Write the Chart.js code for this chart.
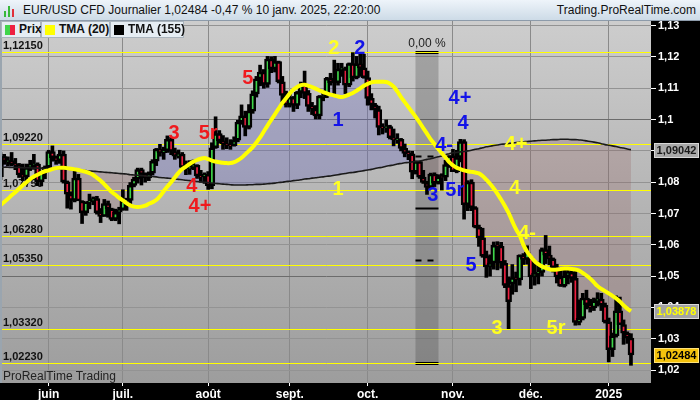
<!DOCTYPE html>
<html>
<head>
<meta charset="utf-8">
<script src="https://cdn.jsdelivr.net/npm/chart.js@4.4.1/dist/chart.umd.min.js"></script>
<style>
    html, body { margin: 0; padding: 0; background: #000; }
    #wrap { position: relative; width: 700px; height: 400px; overflow: hidden; font-family: "Liberation Sans", Arial, sans-serif; }
    #c { position: absolute; left: 0; top: 0; }
    #head { position: absolute; left: 0; top: 0; width: 700px; height: 21px; box-sizing: border-box;
            background: linear-gradient(#eef4fa, #cddbe7); border-bottom: 1px solid #8d9baa; font-size: 12px; color: #111; }
    #head .ttl { position: absolute; left: 23px; top: 3px; white-space: nowrap; }
    #head .site { position: absolute; right: 4px; top: 3px; white-space: nowrap; }
    #head .ico { position: absolute; left: 4px; top: 4px; width: 12px; height: 13px; }
    #head .ico i { position: absolute; bottom: 0; width: 2px; background: #37b93a; }
    .leg { position: absolute; top: 21px; height: 17px; box-sizing: border-box; background: #e6edf3;
           border: 1px solid #aab4bd; font-size: 12px; font-weight: bold; color: #111; line-height: 15px; white-space: nowrap; }
    .leg .sw { position: absolute; left: 3px; top: 3px; width: 10px; height: 10px; }
    .leg span { position: absolute; left: 17px; top: 0; }
    #brand { position: absolute; left: 3px; top: 369px; font-size: 12px; color: #222; white-space: nowrap; }
</style>
</head>
<body>
<div id="wrap">
    <canvas id="c" width="700" height="400"></canvas>
    <div id="head">
        <div class="ico"><i style="left:0;height:6px"></i><i style="left:4px;height:11px"></i><i style="left:8px;height:8px;background:#e0303a"></i></div>
        <span class="ttl">EUR/USD CFD Journalier 1,02484 -0,47 % 10 janv. 2025, 22:20:00</span>
        <span class="site">Trading.ProRealTime.com</span>
    </div>
    <div class="leg" style="left:1px;width:40px"><i class="sw" style="background:linear-gradient(90deg,#3fd54a 50%,#ee2040 50%)"></i><span>Prix</span></div>
    <div class="leg" style="left:41px;width:69px"><i class="sw" style="background:#ffff00"></i><span>TMA (20)</span></div>
    <div class="leg" style="left:110px;width:74px"><i class="sw" style="background:#000"></i><span>TMA (155)</span></div>
    <div id="brand">ProRealTime Trading</div>
</div>
<script>
// One entry per trading day, 15 mai 2024 -> 10 janv. 2025 (index = x position)
// Month rows: mai(13) juin(20) juil(23) aout(22) sept(21) oct(23) nov(21) dec(21) janv(7)
const opens = [
    1.0818,1.0882,1.0866,1.0869,1.0857,1.0856,1.0823,1.0817,1.0847,1.0857,1.0858,1.0802,1.0832,
    1.0848,1.0898,1.0878,1.0869,1.0890,1.0801,1.0762,1.0742,1.0813,1.0740,1.0703,1.0737,1.0739,1.0748,1.0703,1.0691,1.0732,1.0715,1.0681,1.0704,
    1.0712,1.0741,1.0742,1.0790,1.0810,1.0840,1.0826,1.0814,1.0829,1.0867,1.0906,1.0894,1.0901,1.0937,1.0898,1.0883,1.0890,1.0847,1.0843,1.0849,1.0855,1.0820,1.0817,
    1.0825,1.0789,1.0910,1.0955,1.0932,1.0923,1.0918,1.0917,1.0934,1.0992,1.1012,1.0975,1.1027,1.1082,1.1130,1.1152,1.1112,1.1193,1.1162,1.1185,1.1121,1.1077,
    1.1047,1.1071,1.1045,1.1087,1.1111,1.1084,1.1042,1.1034,1.1012,1.1075,1.1076,1.1132,1.1118,1.1118,1.1161,1.1163,1.1110,1.1179,1.1133,1.1178,1.1165,
    1.1134,1.1068,1.1047,1.1032,1.0975,1.0974,1.0978,1.0942,1.0935,1.0937,1.0908,1.0892,1.0891,1.0832,1.0866,1.0816,1.0799,1.0783,1.0826,1.0797,1.0817,1.0816,1.0856,
    1.0884,1.0834,1.0879,1.0930,1.0728,1.0800,1.0719,1.0656,1.0622,1.0564,1.0529,1.0542,1.0598,1.0596,1.0541,1.0470,1.0475,1.0495,1.0488,1.0567,1.0553,
    1.0560,1.0497,1.0510,1.0512,1.0585,1.0567,1.0555,1.0527,1.0497,1.0468,1.0501,1.0512,1.0493,1.0352,1.0365,1.0430,1.0409,1.0398,1.0421,1.0427,1.0407,
    1.0354,1.0265,1.0309,1.0389,1.0345,1.0318,1.0302
];
const highs = [
    1.0895,1.0889,1.0881,1.0895,1.0876,1.0860,1.0858,1.0858,1.0870,1.0889,1.0862,1.0834,1.0852,
    1.0902,1.0916,1.0884,1.0902,1.0900,1.0804,1.0769,1.0842,1.0825,1.0741,1.0737,1.0762,1.0753,1.0755,1.0716,1.0745,1.0740,1.0717,1.0714,1.0720,
    1.0776,1.0749,1.0799,1.0816,1.0845,1.0845,1.0830,1.0833,1.0872,1.0908,1.0921,1.0912,1.0948,1.0943,1.0909,1.0903,1.0895,1.0868,1.0869,1.0871,1.0856,1.0838,1.0830,
    1.0834,1.0926,1.1009,1.0965,1.0949,1.0942,1.0936,1.0945,1.0998,1.1047,1.1027,1.1048,1.1092,1.1138,1.1174,1.1160,1.1202,1.1201,1.1202,1.1187,1.1138,1.1091,
    1.1085,1.1074,1.1090,1.1120,1.1155,1.1093,1.1055,1.1045,1.1077,1.1093,1.1135,1.1148,1.1190,1.1180,1.1180,1.1168,1.1181,1.1214,1.1202,1.1209,1.1209,
    1.1155,1.1083,1.1052,1.1043,1.0987,1.0999,1.0982,1.0970,1.0955,1.0940,1.0922,1.0900,1.0899,1.0868,1.0867,1.0838,1.0803,1.0829,1.0830,1.0824,1.0827,1.0870,1.0885,
    1.0905,1.0902,1.0937,1.0936,1.0805,1.0808,1.0722,1.0663,1.0653,1.0580,1.0568,1.0609,1.0610,1.0608,1.0550,1.0497,1.0537,1.0513,1.0568,1.0572,1.0597,
    1.0562,1.0540,1.0545,1.0590,1.0630,1.0596,1.0558,1.0538,1.0525,1.0523,1.0525,1.0518,1.0516,1.0424,1.0445,1.0455,1.0426,1.0430,1.0447,1.0445,1.0414,
    1.0366,1.0318,1.0437,1.0433,1.0360,1.0322,1.0316
];
const lows = [
    1.0808,1.0857,1.0852,1.0852,1.0840,1.0815,1.0805,1.0803,1.0837,1.0841,1.0789,1.0788,1.0811,
    1.0843,1.0867,1.0857,1.0860,1.0797,1.0717,1.0714,1.0737,1.0742,1.0668,1.0694,1.0715,1.0728,1.0698,1.0671,1.0691,1.0688,1.0677,1.0677,1.0667,
    1.0710,1.0710,1.0730,1.0785,1.0797,1.0791,1.0800,1.0805,1.0823,1.0853,1.0883,1.0873,1.0895,1.0888,1.0873,1.0877,1.0843,1.0824,1.0825,1.0840,1.0812,1.0800,1.0796,
    1.0777,1.0779,1.0908,1.0925,1.0905,1.0907,1.0905,1.0915,1.0929,1.0985,1.0948,1.0970,1.1020,1.1072,1.1108,1.1100,1.1103,1.1150,1.1152,1.1117,1.1057,1.1040,
    1.1040,1.1026,1.1035,1.1070,1.1067,1.1026,1.1016,1.1002,1.1002,1.1060,1.1070,1.1110,1.1080,1.1110,1.1138,1.1083,1.1105,1.1123,1.1130,1.1138,1.1132,
    1.1046,1.1031,1.1005,1.0951,1.0954,1.0959,1.0938,1.0916,1.0924,1.0900,1.0881,1.0872,1.0811,1.0826,1.0812,1.0796,1.0761,1.0779,1.0786,1.0794,1.0775,1.0805,1.0847,
    1.0834,1.0830,1.0865,1.0682,1.0709,1.0709,1.0654,1.0595,1.0560,1.0496,1.0500,1.0522,1.0520,1.0525,1.0463,1.0332,1.0442,1.0450,1.0471,1.0537,1.0538,
    1.0460,1.0471,1.0475,1.0500,1.0540,1.0536,1.0513,1.0478,1.0467,1.0465,1.0475,1.0480,1.0343,1.0344,1.0360,1.0395,1.0385,1.0390,1.0404,1.0390,1.0350,
    1.0226,1.0243,1.0305,1.0345,1.0282,1.0285,1.0215
];
const closes = [
    1.0882,1.0866,1.0869,1.0857,1.0856,1.0823,1.0817,1.0847,1.0857,1.0858,1.0802,1.0832,1.0848,
    1.0898,1.0878,1.0869,1.0890,1.0801,1.0762,1.0742,1.0813,1.0740,1.0703,1.0737,1.0739,1.0748,1.0703,1.0691,1.0732,1.0715,1.0681,1.0704,1.0712,
    1.0741,1.0742,1.0790,1.0810,1.0840,1.0826,1.0814,1.0829,1.0867,1.0906,1.0894,1.0901,1.0937,1.0898,1.0883,1.0890,1.0847,1.0843,1.0849,1.0855,1.0820,1.0817,1.0825,
    1.0789,1.0910,1.0955,1.0932,1.0923,1.0918,1.0917,1.0934,1.0992,1.1012,1.0975,1.1027,1.1082,1.1130,1.1152,1.1112,1.1193,1.1162,1.1185,1.1121,1.1077,1.1047,
    1.1071,1.1045,1.1087,1.1111,1.1084,1.1042,1.1034,1.1012,1.1075,1.1076,1.1132,1.1118,1.1118,1.1161,1.1163,1.1110,1.1179,1.1133,1.1178,1.1165,1.1134,
    1.1068,1.1047,1.1032,1.0975,1.0974,1.0978,1.0942,1.0935,1.0937,1.0908,1.0892,1.0891,1.0832,1.0866,1.0816,1.0799,1.0783,1.0826,1.0797,1.0817,1.0816,1.0856,1.0884,
    1.0834,1.0879,1.0930,1.0728,1.0800,1.0719,1.0656,1.0622,1.0564,1.0529,1.0542,1.0598,1.0596,1.0541,1.0470,1.0418,1.0495,1.0488,1.0567,1.0553,1.0577,
    1.0497,1.0510,1.0512,1.0585,1.0567,1.0555,1.0527,1.0497,1.0468,1.0501,1.0512,1.0493,1.0352,1.0365,1.0430,1.0409,1.0398,1.0421,1.0427,1.0407,1.0354,
    1.0265,1.0309,1.0389,1.0345,1.0318,1.0302,1.0248
];
// TMA (20) - yellow
const tma20 = [
    1.0727,1.0737,1.0747,1.0758,1.0768,1.0779,1.0790,1.0800,1.0810,1.0818,
    1.0824,1.0830,1.0835,1.0838,1.0842,1.0845,1.0846,1.0846,1.0845,1.0843,
    1.0841,1.0839,1.0836,1.0833,1.0829,1.0823,1.0814,1.0805,1.0793,1.0781,
    1.0769,1.0760,1.0750,1.0742,1.0733,1.0726,1.0722,1.0721,1.0722,1.0725,
    1.0731,1.0736,1.0743,1.0755,1.0771,1.0786,1.0800,1.0815,1.0830,1.0842,
    1.0850,1.0858,1.0865,1.0871,1.0875,1.0877,1.0874,1.0869,1.0866,1.0864,
    1.0862,1.0861,1.0861,1.0864,1.0870,1.0878,1.0889,1.0900,1.0912,1.0927,
    1.0943,1.0962,1.0981,1.0999,1.1017,1.1035,1.1053,1.1068,1.1083,1.1096,
    1.1104,1.1110,1.1111,1.1108,1.1104,1.1099,1.1093,1.1088,1.1084,1.1080,
    1.1077,1.1074,1.1072,1.1075,1.1080,1.1085,1.1092,1.1100,1.1108,1.1114,
    1.1119,1.1121,1.1121,1.1121,1.1120,1.1115,1.1105,1.1090,1.1072,1.1056,
    1.1040,1.1024,1.1008,1.0991,1.0973,1.0955,1.0937,1.0922,1.0907,1.0893,
    1.0879,1.0864,1.0854,1.0846,1.0842,1.0838,1.0835,1.0833,1.0831,1.0828,
    1.0820,1.0808,1.0795,1.0780,1.0763,1.0744,1.0724,1.0702,1.0675,1.0650,
    1.0630,1.0600,1.0578,1.0562,1.0548,1.0538,1.0531,1.0526,1.0522,1.0520,
    1.0521,1.0523,1.0524,1.0524,1.0523,1.0521,1.0518,1.0510,1.0502,1.0492,
    1.0480,1.0468,1.0459,1.0452,1.0445,1.0437,1.0429,1.0419,1.0407,1.0396,
    1.0388
];
// TMA (155) - black
const tma155 = [
    1.0848,1.0848,1.0848,1.0847,1.0847,1.0847,1.0846,1.0846,1.0846,1.0845,1.0845,1.0845,1.0844,1.0844,1.0844,1.0843,1.0843,1.0843,
    1.0842,1.0841,1.0840,1.0839,1.0838,1.0837,1.0836,1.0835,1.0834,
    1.0833,1.0832,1.0831,1.0830,1.0829,1.0828,1.0827,1.0826,1.0824,
    1.0823,1.0822,1.0821,1.0820,1.0819,1.0818,1.0817,1.0815,1.0814,
    1.0813,1.0812,1.0810,1.0809,1.0808,1.0806,1.0805,1.0804,1.0802,
    1.0801,1.0800,1.0799,1.0797,1.0796,1.0795,1.0794,1.0793,1.0792,
    1.0791,1.0791,1.0791,1.0791,1.0792,1.0792,1.0793,1.0793,1.0794,
    1.0795,1.0796,1.0797,1.0799,1.0800,1.0802,1.0803,1.0805,1.0806,
    1.0808,1.0810,1.0811,1.0813,1.0814,1.0816,1.0817,1.0819,1.0820,
    1.0822,1.0824,1.0826,1.0828,1.0830,1.0831,1.0833,1.0835,1.0837,
    1.0839,1.0841,1.0844,1.0846,1.0848,1.0851,1.0853,1.0855,1.0858,
    1.0860,1.0862,1.0863,1.0865,1.0866,1.0868,1.0870,1.0873,1.0875,
    1.0878,1.0881,1.0884,1.0888,1.0891,1.0894,1.0895,1.0897,1.0898,
    1.0900,1.0902,1.0905,1.0907,1.0910,1.0913,1.0915,1.0917,1.0919,
    1.0921,1.0922,1.0924,1.0925,1.0927,1.0928,1.0929,1.0930,1.0931,
    1.0932,1.0933,1.0934,1.0934,1.0935,1.0936,1.0936,1.0937,1.0937,
    1.0937,1.0936,1.0936,1.0935,1.0934,1.0932,1.0930,1.0928,1.0926,
    1.0923,1.0920,1.0918,1.0916,1.0914,1.0911,1.0909,1.0906,1.0904
];

// Axis ticks
const monthTicks = [13, 33, 56, 78, 99, 122, 143, 164];
const monthLabels = ['juin', 'juil.', 'août', 'sept.', 'oct.', 'nov.', 'déc.', '2025'];
const yTicks = [1.02, 1.03, 1.04, 1.05, 1.06, 1.07, 1.08, 1.09, 1.1, 1.11, 1.12, 1.13];
const majorY = [1.05, 1.1];

// Yellow horizontal levels with their labels
const levels = [1.1215, 1.0922, 1.0775, 1.0628, 1.0535, 1.0332, 1.0223];
const levelLabels = ['1,12150', '1,09220', '1,07750', '1,06280', '1,05350', '1,03320', '1,02230'];

// Grey measure band (start/end day index) and its levels
const bandDays = [111.9, 118.1];
const bandLevels = [1.1215, 1.0884, 1.0719, 1.0553, 1.0223];
const bandDashed = [false, true, false, true, false];

// Wave count labels: text, day index, price, colour group
const waveText  = ['3', '5r', '4', '4+', '5', '2', '1', '3', '5r', '4-', '4', '4+', '5', '2', '1', '4+', '4', '4-', '3', '5r'];
const waveDay   = [46.8, 56.0, 51.6, 53.8, 66.7, 96.9, 91.0, 116.6, 122.5, 119.6, 124.7, 123.9, 126.9, 89.9, 91.0, 139.0, 138.7, 142.0, 133.9, 149.8];
const wavePrice = [1.0957, 1.0957, 1.0785, 1.0721, 1.1130, 1.1226, 1.0996, 1.0759, 1.0775, 1.0916, 1.0986, 1.1069, 1.0535, 1.1226, 1.0778, 1.0922, 1.0781, 1.0635, 1.0334, 1.0334];
const waveGroup = ['r', 'r', 'r', 'r', 'r', 'b', 'b', 'b', 'b', 'b', 'b', 'b', 'b', 'y', 'y', 'y', 'y', 'y', 'y', 'y'];
const waveColors = { r: '#f01a1e', b: '#1414e8', y: '#ffff22' };

// Right axis badges
const badgeValues = [1.09042, 1.03878, 1.02484];
const badgeLabels = ['1,09042', '1,03878', '1,02484'];

const FONT = '"Liberation Sans", Arial, sans-serif';
const UP = '#3fd54a';
const DOWN = '#ee2040';

const prtPlugin = {
    id: 'prt',
    beforeDraw(chart) {
        const ctx = chart.ctx;
        const a = chart.chartArea;
        ctx.save();
        ctx.fillStyle = '#000';
        ctx.fillRect(0, 0, chart.width, chart.height);
        ctx.fillStyle = '#9aa5af';
        ctx.fillRect(0, a.top, a.left, a.bottom - a.top);
        const g = ctx.createLinearGradient(0, a.top, 0, a.bottom);
        g.addColorStop(0, '#cdcdcd');
        g.addColorStop(1, '#9d9d9d');
        ctx.fillStyle = g;
        ctx.fillRect(a.left, a.top, a.right - a.left, a.bottom - a.top);
        ctx.restore();
    },
    beforeDatasetsDraw(chart) {
        const ctx = chart.ctx;
        const a = chart.chartArea;
        const xs = chart.scales.x;
        const ys = chart.scales.y;
        ctx.save();
        ctx.beginPath();
        ctx.rect(a.left, a.top, a.right - a.left, a.bottom - a.top);
        ctx.clip();

        // grey band
        const bx0 = xs.getPixelForValue(bandDays[0]);
        const bx1 = xs.getPixelForValue(bandDays[1]);
        const by0 = ys.getPixelForValue(bandLevels[0]);
        const by1 = ys.getPixelForValue(bandLevels[bandLevels.length - 1]);
        ctx.fillStyle = 'rgba(60,60,60,0.28)';
        ctx.fillRect(bx0, by0, bx1 - bx0, by1 - by0);
        ctx.strokeStyle = '#000';
        bandLevels.forEach((v, k) => {
            const y = Math.round(ys.getPixelForValue(v)) + 0.5;
            ctx.lineWidth = (k === 0 || k === bandLevels.length - 1) ? 3 : 2;
            ctx.setLineDash(bandDashed[k] ? [6, 6] : []);
            ctx.beginPath();
            ctx.moveTo(bx0, y);
            ctx.lineTo(bx1, y);
            ctx.stroke();
        });
        ctx.setLineDash([]);

        // yellow levels and labels
        ctx.font = 'bold 11px ' + FONT;
        ctx.textBaseline = 'alphabetic';
        ctx.textAlign = 'left';
        levels.forEach((v, k) => {
            const y = Math.round(ys.getPixelForValue(v)) + 0.5;
            ctx.strokeStyle = '#ffff00';
            ctx.lineWidth = 1;
            ctx.beginPath();
            ctx.moveTo(a.left, y);
            ctx.lineTo(a.right, y);
            ctx.stroke();
            ctx.fillStyle = '#111';
            ctx.fillText(levelLabels[k], a.left + 1, y - 4);
        });
        ctx.restore();

        // measure label above the band
        ctx.save();
        ctx.font = '12px ' + FONT;
        ctx.fillStyle = '#222';
        ctx.textAlign = 'center';
        ctx.fillText('0,00 %', (bx0 + bx1) / 2, by0 - 5);
        ctx.restore();
    },
    afterDatasetsDraw(chart) {
        const ctx = chart.ctx;
        const xs = chart.scales.x;
        const ys = chart.scales.y;
        ctx.save();
        ctx.font = 'bold 20px ' + FONT;
        ctx.textAlign = 'center';
        ctx.textBaseline = 'middle';
        waveText.forEach((t, k) => {
            ctx.fillStyle = waveColors[waveGroup[k]];
            ctx.fillText(t, xs.getPixelForValue(waveDay[k]), ys.getPixelForValue(wavePrice[k]));
        });
        ctx.restore();
    },
    afterDraw(chart) {
        const ctx = chart.ctx;
        const a = chart.chartArea;
        const ys = chart.scales.y;
        const styles = [
            { bg: '#a9a9a9', fg: '#1a1a1a', line: '#d8d8d8' },
            { bg: '#a3a3a3', fg: '#ffff00', line: '#d8d8d8' },
            { bg: '#f4c20d', fg: '#000', line: '#ffe27a' }
        ];
        ctx.save();
        ctx.font = 'bold 11px ' + FONT;
        ctx.textAlign = 'center';
        ctx.textBaseline = 'middle';
        badgeValues.forEach((v, k) => {
            const y = Math.round(ys.getPixelForValue(v));
            const s = styles[k];
            ctx.fillStyle = s.bg;
            ctx.fillRect(a.right + 3, y - 7, 45, 15);
            ctx.strokeStyle = s.line;
            ctx.lineWidth = 1;
            ctx.strokeRect(a.right + 3.5, y - 6.5, 44, 14);
            ctx.fillStyle = s.fg;
            ctx.fillText(badgeLabels[k], a.right + 25.5, y + 1);
        });
        ctx.restore();
    }
};

const closeLine = closes.map((c, i) => ({ x: i, y: c }));
const wickData = highs.map((h, i) => ({ x: i, y: [lows[i], h] }));
const bodyData = opens.map((o, i) => ({ x: i, y: [o, closes[i]] }));
const bodyColors = opens.map((o, i) => closes[i] >= o ? UP : DOWN);

new Chart(document.getElementById('c'), {
    type: 'bar',
    data: {
        datasets: [
            {
                type: 'line',
                data: closeLine,
                borderWidth: 0,
                pointRadius: 0,
                fill: { target: 3, above: 'rgba(95,95,190,0.30)', below: 'rgba(140,80,80,0.22)' },
                order: 4
            },
            {
                data: wickData,
                backgroundColor: '#000',
                barThickness: 3,
                grouped: false,
                order: 3
            },
            {
                data: bodyData,
                backgroundColor: bodyColors,
                borderColor: '#000',
                borderWidth: 2.5,
                borderSkipped: false,
                barThickness: 6,
                grouped: false,
                order: 2
            },
            {
                type: 'line',
                data: tma155.map((v, i) => ({ x: i, y: v })),
                borderColor: '#1a1a1a',
                borderWidth: 1.6,
                pointRadius: 0,
                tension: 0.4,
                fill: false,
                order: 1
            },
            {
                type: 'line',
                data: tma20.map((v, i) => ({ x: i, y: v })),
                borderColor: '#ffff00',
                borderWidth: 4,
                pointRadius: 0,
                tension: 0.4,
                fill: false,
                order: 0
            }
        ]
    },
    options: {
        responsive: false,
        animation: false,
        events: [],
        layout: { padding: { top: 21, left: 2, right: 0, bottom: 0 } },
        plugins: {
            legend: { display: false },
            tooltip: { enabled: false },
            filler: { drawTime: 'beforeDatasetsDraw' }
        },
        scales: {
            x: {
                type: 'linear',
                min: 0.41,
                max: 175.4,
                offset: false,
                border: { display: false },
                grid: { offset: false, color: '#8a8a8a', tickColor: '#fff', tickLength: 3 },
                ticks: {
                    color: '#fff',
                    font: { family: FONT, size: 12, weight: 'bold' },
                    padding: 1,
                    maxRotation: 0,
                    autoSkip: false,
                    callback: v => monthLabels[monthTicks.indexOf(v)]
                },
                afterBuildTicks: s => { s.ticks = monthTicks.map(v => ({ value: v })); },
                afterFit: s => { s.height = 17; }
            },
            y: {
                type: 'linear',
                position: 'right',
                min: 1.01585,
                max: 1.1315,
                border: { display: false },
                grid: {
                    color: c => (c.tick && majorY.includes(c.tick.value)) ? '#6c6c6c' : '#939393',
                    tickColor: '#fff',
                    tickLength: 5
                },
                ticks: {
                    color: '#fff',
                    font: { family: FONT, size: 11, weight: 'bold' },
                    padding: 2,
                    callback: v => String(v).replace('.', ',')
                },
                afterBuildTicks: s => { s.ticks = yTicks.map(v => ({ value: v })); },
                afterFit: s => { s.width = 49; }
            }
        }
    },
    plugins: [prtPlugin]
});
</script>
</body>
</html>
